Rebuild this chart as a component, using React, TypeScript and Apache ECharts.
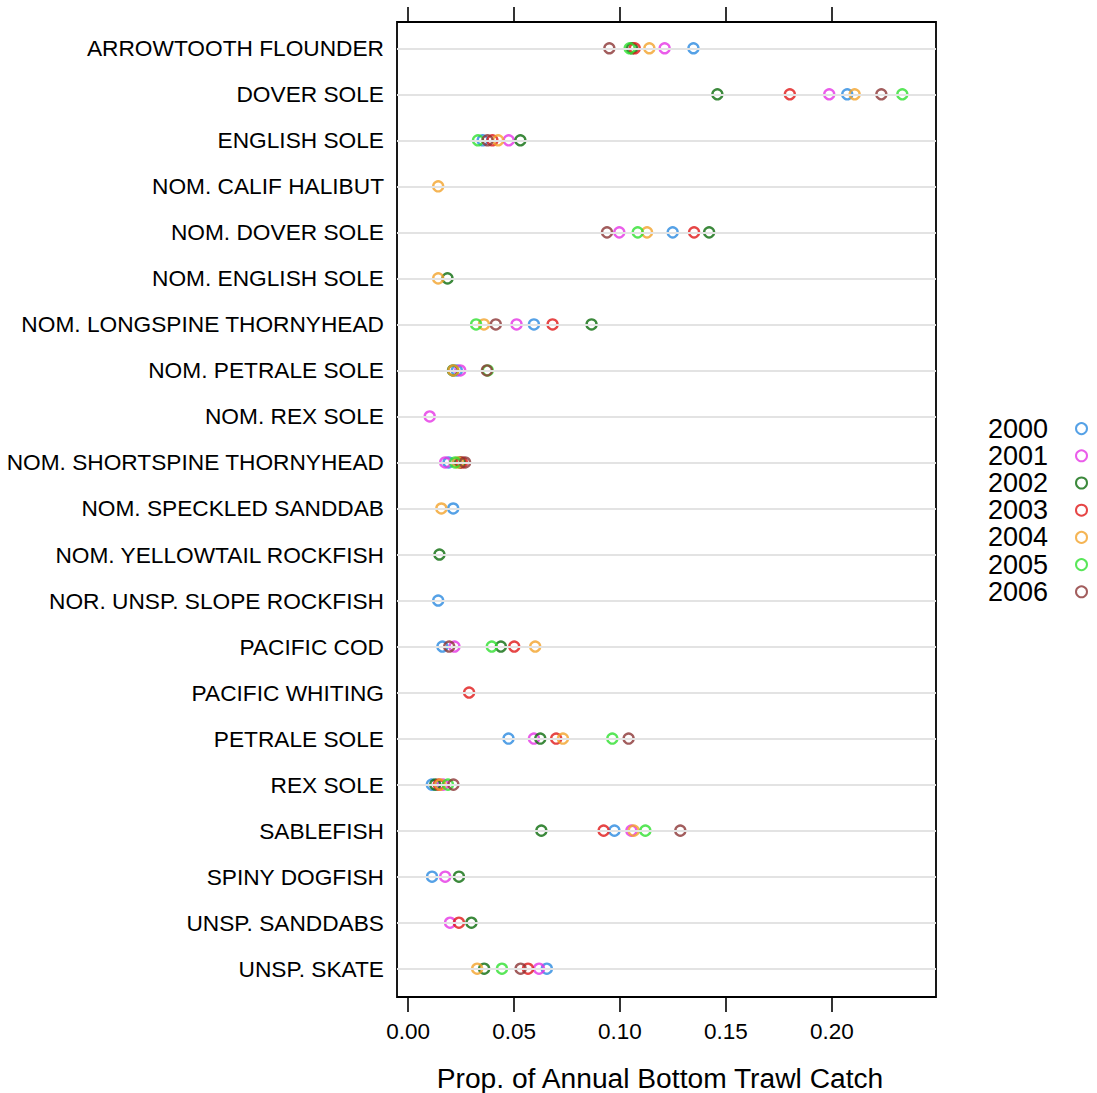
import React, { useEffect, useRef } from "react";
import * as echarts from "echarts";

const categories = [
  "ARROWTOOTH FLOUNDER",
  "DOVER SOLE",
  "ENGLISH SOLE",
  "NOM. CALIF HALIBUT",
  "NOM. DOVER SOLE",
  "NOM. ENGLISH SOLE",
  "NOM. LONGSPINE THORNYHEAD",
  "NOM. PETRALE SOLE",
  "NOM. REX SOLE",
  "NOM. SHORTSPINE THORNYHEAD",
  "NOM. SPECKLED SANDDAB",
  "NOM. YELLOWTAIL ROCKFISH",
  "NOR. UNSP. SLOPE ROCKFISH",
  "PACIFIC COD",
  "PACIFIC WHITING",
  "PETRALE SOLE",
  "REX SOLE",
  "SABLEFISH",
  "SPINY DOGFISH",
  "UNSP. SANDDABS",
  "UNSP. SKATE",
];

const years = ["2000", "2001", "2002", "2003", "2004", "2005", "2006"];
const yearColors = ["#2a8ae0", "#e535e5", "#0b6b0b", "#e01818", "#f2a32a", "#2fe02f", "#8b3535"];

const v2000 = [0.1347, 0.2073, 0.0352, null, 0.1249, null, 0.0594, 0.023, null, 0.0191, 0.0213, null, 0.0142, 0.0162, null, 0.0474, 0.0112, 0.0974, 0.0113, null, 0.0655];
const v2001 = [0.1211, 0.1988, 0.0475, null, 0.0997, null, 0.0512, 0.0246, 0.0102, 0.0175, null, null, null, 0.0219, null, 0.0594, 0.0165, 0.1054, 0.0175, 0.0198, 0.0618];
const v2002 = [0.1057, 0.146, 0.053, null, 0.1421, 0.0186, 0.0866, 0.0212, null, 0.0245, null, 0.0148, null, 0.0438, null, 0.0624, 0.0128, 0.0629, 0.024, 0.0299, 0.0359];
const v2003 = [0.107, 0.1802, 0.0398, null, 0.135, null, 0.0682, null, null, 0.0254, null, null, null, 0.0501, 0.0288, 0.0699, 0.0145, 0.0923, null, 0.024, 0.0566];
const v2004 = [0.1139, 0.2108, 0.0425, 0.0142, 0.1128, 0.0142, 0.0358, 0.0214, null, 0.0235, 0.0157, null, null, 0.06, null, 0.0731, 0.0152, 0.1065, null, null, 0.0326];
const v2005 = [0.1046, 0.2333, 0.033, null, 0.1084, null, 0.0321, 0.0376, null, 0.0222, null, null, null, 0.0395, null, 0.0964, 0.0188, 0.112, null, null, 0.0443];
const v2006 = [0.095, 0.2234, 0.0375, null, 0.0939, null, 0.0414, 0.0372, null, 0.0269, null, null, null, 0.0194, null, 0.1041, 0.0214, 0.1285, null, null, 0.0531];

const yearValues = [v2000, v2001, v2002, v2003, v2004, v2005, v2006];
const xTicks = [0, 0.05, 0.1, 0.15, 0.2];
const xTickLabels = ["0.00", "0.05", "0.10", "0.15", "0.20"];
const xTitle = "Prop. of Annual Bottom Trawl Catch";

const FONT = "'Liberation Sans', Arial, sans-serif";

export default function App() {
  const ref = useRef<HTMLDivElement>(null);

  useEffect(() => {
    if (!ref.current) return;
    const chart = echarts.init(ref.current, null, { renderer: "svg" });
    const rowIdx = categories.map((_, i) => i);

    const scatterSeries = years.map((y, k) => ({
      name: y,
      type: "scatter",
      z: 3,
      symbol: "circle",
      symbolSize: 10,
      itemStyle: { color: "transparent", borderColor: yearColors[k], borderWidth: 2.4 },
      emphasis: { disabled: true },
      data: yearValues[k]
        .map((v, i) => (v == null ? null : [v, i]))
        .filter((d) => d !== null),
    }));

    const tickStyle = { color: "#000", width: 1.6 };

    chart.setOption({
      animation: false,
      textStyle: { fontFamily: FONT },
      grid: {
        left: 397,
        right: 161,
        top: 22,
        bottom: 96,
        show: true,
        borderColor: "#000",
        borderWidth: 1.8,
        backgroundColor: "transparent",
      },
      xAxis: [
        {
          type: "value",
          position: "bottom",
          min: -0.00524,
          max: 0.2492,
          axisLine: { show: false, onZero: false },
          splitLine: { show: false },
          axisTick: { show: true, inside: false, length: 15, customValues: xTicks, lineStyle: tickStyle },
          axisLabel: {
            customValues: xTicks,
            formatter: (v: number) => xTickLabels[xTicks.findIndex((t) => Math.abs(t - v) < 1e-9)] ?? "",
            fontSize: 22.5,
            color: "#000",
            fontFamily: FONT,
            margin: 23,
          },
        },
        {
          type: "value",
          position: "top",
          min: -0.00524,
          max: 0.2492,
          axisLine: { show: false, onZero: false },
          splitLine: { show: false },
          axisTick: { show: true, inside: false, length: 15, customValues: xTicks, lineStyle: tickStyle },
          axisLabel: { show: false },
        },
      ],
      yAxis: {
        type: "value",
        inverse: true,
        min: -0.571,
        max: 20.615,
        axisLine: { show: false, onZero: false },
        axisTick: { show: false },
        splitLine: { show: false },
        axisLabel: {
          customValues: rowIdx,
          formatter: (v: number) => categories[Math.round(v)] ?? "",
          fontSize: 22.7,
          color: "#000",
          fontFamily: FONT,
          margin: 13,
        },
      },
      legend: {
        orient: "vertical",
        left: 983,
        top: 410,
        align: "right",
        itemWidth: 11,
        itemHeight: 11,
        itemGap: 0,
        selectedMode: false,
        data: years,
        formatter: "{a|{name}}",
        textStyle: {
          fontSize: 27,
          lineHeight: 27.2,
          color: "#000",
          fontFamily: FONT,
          rich: { a: { width: 83, align: "left", fontSize: 27, lineHeight: 27.2, fontFamily: FONT, color: "#000" } },
        },
      },
      graphic: [
        {
          type: "text",
          x: 660,
          y: 1078,
          style: {
            text: xTitle,
            fontSize: 28.2,
            fontFamily: FONT,
            fill: "#000",
            textAlign: "center",
            textVerticalAlign: "middle",
          },
        },
      ],
      series: [
        {
          name: "rows",
          type: "scatter",
          z: 1,
          data: [],
          silent: true,
          markLine: {
            silent: true,
            symbol: ["none", "none"],
            label: { show: false },
            lineStyle: { color: "#e3e3e3", width: 2.2, type: "solid" },
            emphasis: { disabled: true },
            data: rowIdx.map((i) => ({ yAxis: i })),
          },
        },
        ...scatterSeries,
      ],
    });
    return () => chart.dispose();
  }, []);

  return <div ref={ref} style={{ position: "absolute", left: 0, top: 0, width: 1097, height: 1093 }} />;
}
